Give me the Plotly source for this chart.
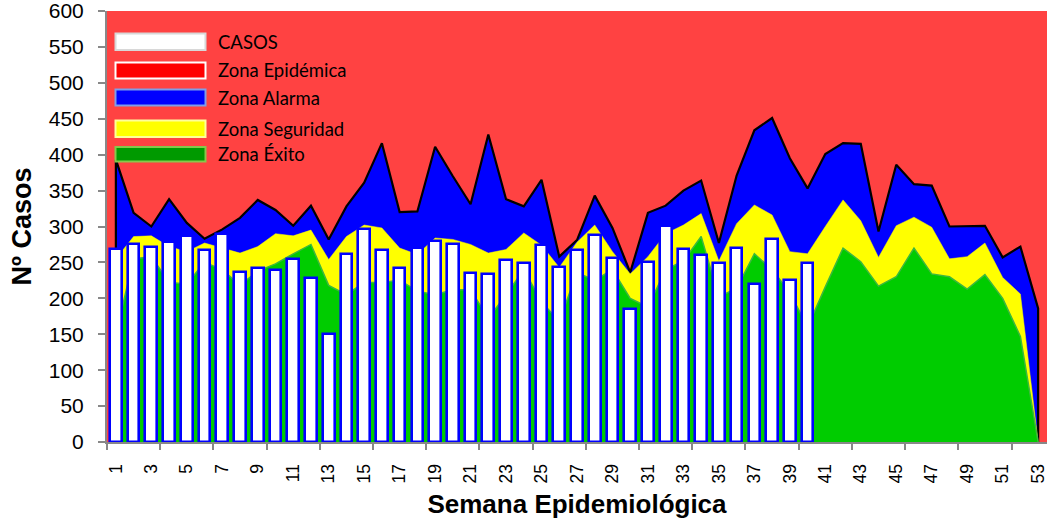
import plotly.graph_objects as go

# ---------------- data ----------------
weeks = list(range(1, 54))

casos = [268, 275, 272, 278, 287, 267, 289, 236, 242, 240,
         255, 228, 151, 262, 297, 267, 242, 270, 280, 276,
         235, 234, 254, 249, 274, 243, 267, 288, 256, 185,
         251, 301, 268, 260, 249, 270, 220, 283, 226, 249]

# upper limit of each zone (cumulative)
limite_exito = [150, 255, 258, 222, 220, 250, 240, 218, 238, 248,
                262, 275, 218, 205, 222, 222, 225, 210, 205, 212,
                212, 172, 205, 240, 195, 168, 236, 225, 240, 200,
                188, 240, 252, 286, 202, 214, 262, 240, 208, 160,
                216, 270, 251, 217, 230, 270, 234, 230, 213, 233,
                200, 147, 0]

limite_seguridad = [255, 286, 287, 272, 265, 277, 270, 263, 272, 290,
                    287, 295, 254, 286, 302, 298, 270, 261, 284, 282,
                    275, 263, 268, 291, 274, 243, 278, 302, 265, 234,
                    258, 290, 302, 318, 252, 304, 330, 316, 265, 262,
                    300, 337, 308, 257, 301, 313, 299, 255, 258, 277,
                    229, 206, 0]

limite_alarma = [393, 319, 300, 338, 305, 283, 296, 312, 337, 323,
                 301, 329, 282, 328, 361, 416, 320, 321, 411, 370,
                 331, 428, 338, 328, 365, 258, 281, 343, 298, 236,
                 319, 329, 350, 364, 277, 371, 434, 451, 395, 353,
                 401, 416, 415, 293, 386, 359, 357, 300, 301, 301,
                 257, 272, 186]

y_ticks = list(range(0, 601, 50))
x_labels = weeks[::2]

# ---------------- layout geometry ----------------
W, H = 1047, 520
PLOT_X0, PLOT_X1 = 107, 1047   # plot area in window pixels
PLOT_Y0, PLOT_Y1 = 11, 442
L, T = PLOT_X0, PLOT_Y0
R, B = W - PLOT_X1, H - PLOT_Y1
PW, PH = PLOT_X1 - PLOT_X0, PLOT_Y1 - PLOT_Y0


def px(x):
    return (x - PLOT_X0) / PW


def py(y):
    return (PLOT_Y1 - y) / PH


AXIS_FONT = "Liberation Sans, Arial, sans-serif"
RED_BG = "#FF4242"

edge_x = [weeks[0]] + weeks + [weeks[-1]]


def edged(v):
    return [0] + list(v) + [0]


fig = go.Figure()

fig.add_trace(go.Scatter(
    x=edge_x, y=edged(limite_alarma), mode="lines", fill="tozeroy",
    fillcolor="#0000FF", line=dict(color="#000000", width=2.2),
    name="Zona Alarma", showlegend=False, hoverinfo="skip"))

fig.add_trace(go.Scatter(
    x=weeks, y=limite_seguridad, mode="lines", fill="tozeroy",
    fillcolor="#FFFF00", line=dict(color="#FFFF00", width=0.5),
    name="Zona Seguridad", showlegend=False, hoverinfo="skip"))

fig.add_trace(go.Scatter(
    x=weeks, y=limite_exito, mode="lines", fill="tozeroy",
    fillcolor="#00CC00", line=dict(color="#3DB83D", width=1.5),
    name="Zona Éxito", showlegend=False, hoverinfo="skip"))

fig.add_trace(go.Bar(
    x=weeks[:len(casos)], y=casos, xaxis="x2", yaxis="y",
    width=0.66, marker=dict(color="#FFFFFF", line=dict(color="#0000FF", width=2.6)),
    name="CASOS", showlegend=False))

x_range = [0.5, 53.5]

fig.update_layout(
    width=W, height=H,
    margin=dict(l=L, r=R, t=T, b=B, autoexpand=False),
    paper_bgcolor="#FFFFFF", plot_bgcolor=RED_BG,
    showlegend=False,
    bargap=0,
    xaxis=dict(
        range=x_range, tickmode="array", tickvals=x_labels,
        ticktext=[str(v) for v in x_labels], tickangle=-90,
        ticks="", ticklabelstandoff=13, ticklabeloverflow="allow",
        tickfont=dict(family=AXIS_FONT, size=17.5, color="#000000"),
        minor=dict(tickmode="array", tickvals=[w - 0.5 for w in weeks[::3]],
                   ticks="outside", ticklen=6, tickcolor="#888888", tickwidth=1.5),
        showline=True, linecolor="#888888", linewidth=2,
        showgrid=False, zeroline=False, automargin=False,
        title=dict(text="Semana Epidemiológica", standoff=12,
                   font=dict(family=AXIS_FONT, size=26, color="#000000", weight="bold")),
    ),
    xaxis2=dict(range=x_range, overlaying="x", visible=False),
    yaxis=dict(
        range=[0, 600], tickmode="array", tickvals=y_ticks,
        ticks="outside", ticklen=7, tickcolor="#888888", tickwidth=1.5,
        ticklabelstandoff=10, ticklabeloverflow="allow",
        tickfont=dict(family=AXIS_FONT, size=21, color="#000000"),
        showline=True, linecolor="#888888", linewidth=2,
        showgrid=False, zeroline=False, automargin=False,
        title=dict(text="Nº Casos", standoff=9,
                   font=dict(family=AXIS_FONT, size=27, color="#000000", weight="bold")),
    ),
)

# ---------------- legend (drawn inside plot area) ----------------
legend_items = [
    ("CASOS", "#FFFFFF", "#D8D8D8", 33.5, 50),
    ("Zona Epidémica", "#FF0000", "#FFFFFF", 62.5, 78.5),
    ("Zona Alarma", "#0000FF", "#7F9EE8", 89.5, 105.5),
    ("Zona Seguridad", "#FFFF00", "#FFFF99", 120.5, 137),
    ("Zona Éxito", "#009A00", "#86C84A", 147, 161.5),
]
for label, fill, border, y0, y1 in legend_items:
    fig.add_shape(type="rect", xref="paper", yref="paper",
                  x0=px(115.5), x1=px(205.5), y0=py(y1), y1=py(y0),
                  fillcolor=fill, line=dict(color=border, width=2), layer="above")
    fig.add_annotation(xref="paper", yref="paper", x=px(216), y=py((y0 + y1) / 2),
                       text=label, showarrow=False, xanchor="left", yanchor="middle",
                       font=dict(family="Lato, Carlito, sans-serif", size=18.5, color="#000000"))

fig.write_html("out.html", config={"displayModeBar": False},
               post_script="document.body.style.margin='0';")
